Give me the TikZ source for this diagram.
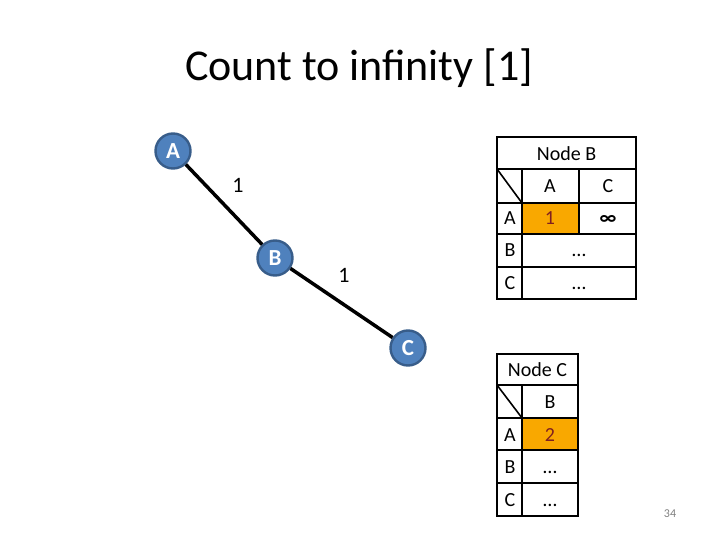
\documentclass[tikz,border=0pt]{standalone}
\usepackage{fontspec}
\setmainfont{Carlito}
\definecolor{nodeblue}{HTML}{4F81BD}
\definecolor{nodeedge}{HTML}{385D8A}
\definecolor{cellorange}{HTML}{F9A800}
\definecolor{celltext}{HTML}{7F2020}
\tikzset{
	router/.style={circle,fill=nodeblue,draw=nodeedge,line width=2.4pt,text=white,
		font=\bfseries\fontsize{23}{27}\selectfont,minimum size=35pt,inner sep=0pt},
	tbl/.style={line width=1.6pt},
	cell/.style={font=\fontsize{20}{24}\selectfont,inner sep=0pt,text height=14pt,text depth=1pt}
}
\begin{document}
\begin{tikzpicture}[x=1pt,y=-1pt]
\useasboundingbox (0,0) rectangle (720,540);
\node[font=\fontsize{44}{52}\selectfont] (title) at (359,68) {Count to infinity [1]};
% network
\node[router] (A) at (173,151) {A};
\node[router] (B) at (275,258) {B};
\node[router] (C) at (408,348) {C};
\draw[line width=3.5pt] (A) -- (B);
\draw[line width=3.5pt] (B) -- (C);
\node[cell,font=\fontsize{22}{26}\selectfont] (wAB) at (238,186) {1};
\node[cell,font=\fontsize{22}{26}\selectfont] (wBC) at (344,276) {1};
% table of node B
\fill[cellorange] (522,203) rectangle (579,234);
\draw[tbl] (497,137) rectangle (636,299);
\foreach \y in {169,203,234,267}
	\draw[tbl] (497,\y) -- (636,\y);
\draw[tbl] (522,169) -- (522,299);
\draw[tbl] (579,169) -- (579,234);
\draw[tbl] (497,169) -- (522,203);
\node[cell] (tB) at (566.5,154) {Node B};
\node[cell] (tBhA) at (550,186) {A};
\node[cell] (tBhC) at (608,186) {C};
\foreach \r/\y in {A/218,B/250,C/283}
	\node[cell] (tB\r) at (510,\y) {\r};
\node[cell,text=celltext] (tBAA) at (550,218) {1};
\node[cell,font=\bfseries\fontsize{20}{24}\selectfont] (tBAC) at (608,218) {∞};
\node[cell] (tBB) at (579,250) {…};
\node[cell] (tBC) at (579,283) {…};
% table of node C
\fill[cellorange] (522,418) rectangle (578,450);
\draw[tbl] (497,354) rectangle (578,516);
\foreach \y in {385,418,450,483}
	\draw[tbl] (497,\y) -- (578,\y);
\draw[tbl] (522,385) -- (522,516);
\draw[tbl] (497,385) -- (522,418);
\node[cell] (tC) at (537.5,370) {Node C};
\node[cell] (tChB) at (550,402) {B};
\foreach \r/\y in {A/435,B/467,C/500}
	\node[cell] (tC\r) at (510,\y) {\r};
\node[cell,text=celltext] (tCAB) at (550,435) {2};
\node[cell] (tCB) at (550,467) {…};
\node[cell] (tCC) at (550,500) {…};
\node[font=\fontsize{12}{14}\selectfont,text=gray] (page) at (670,514) {34};
\end{tikzpicture}
\end{document}
